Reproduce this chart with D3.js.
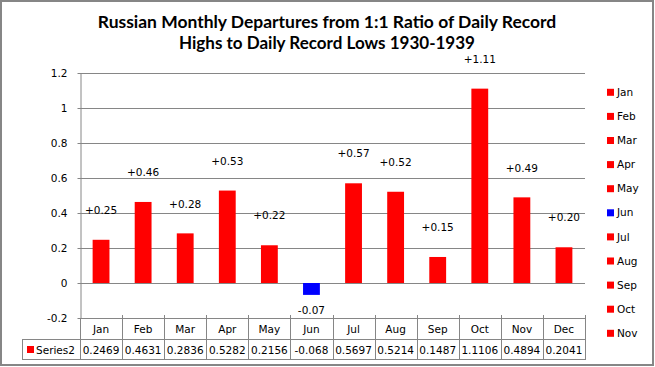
<!DOCTYPE html>
<html><head><meta charset="utf-8">
<script src="https://cdn.jsdelivr.net/npm/d3@7"></script>
<style>
body{margin:0;background:#fff;}
svg{display:block;}
text{font-family:"DejaVu Sans",Verdana,sans-serif;fill:#000;}
</style></head>
<body>
<script>
const titleLines = ["Russian Monthly Departures from 1:1 Ratio of Daily Record","Highs to Daily Record Lows 1930-1939"];
const categories = ["Jan","Feb","Mar","Apr","May","Jun","Jul","Aug","Sep","Oct","Nov","Dec"];
const values = [0.2469,0.4631,0.2836,0.5282,0.2156,-0.068,0.5697,0.5214,0.1487,1.1106,0.4894,0.2041];
const valueLabels = ["+0.25","+0.46","+0.28","+0.53","+0.22","-0.07","+0.57","+0.52","+0.15","+1.11","+0.49","+0.20"];
const yTicks = [-0.2,0,0.2,0.4,0.6,0.8,1,1.2];
const yTickLabels = ["-0.2","0","0.2","0.4","0.6","0.8","1","1.2"];
const seriesName = "Series2";
const legendShown = 11;

(function(){
const W=655,H=367;
const svg=d3.select("body").append("svg").attr("width",W).attr("height",H);
svg.append("rect").attr("x",1).attr("y",1).attr("width",W-3).attr("height",H-3)
  .attr("fill","#fff").attr("stroke","#868686").attr("stroke-width",2);

const pL=80,pR=585,pT=73,pB=318;
const x=d3.scaleBand().domain(categories).range([pL,pR]).paddingInner(0.6).paddingOuter(0.3);
const xc=d3.scaleBand().domain(categories).range([pL,pR]).padding(0);
const y=d3.scaleLinear().domain([-0.2,1.2]).range([pB,pT]);
const color=v=>v<0?"#0000FF":"#FF0000";

// title
const tg=svg.append("g");
const titleTargets=[459,296];
const titleBase=[28,48.5];
titleLines.forEach((t,i)=>{
  const el=tg.append("text").attr("x",327).attr("y",titleBase[i]).attr("text-anchor","middle")
    .style("font-family","Lato, 'Open Sans', sans-serif").style("font-weight","700").style("font-size","18px").text(t);
  const w=el.node().getComputedTextLength();
  el.style("font-size",(18*titleTargets[i]/w).toFixed(2)+"px");
});

// gridlines
svg.append("g").selectAll("line").data(yTicks).join("line")
  .attr("x1",pL).attr("x2",pR).attr("y1",d=>Math.round(y(d))+0.5).attr("y2",d=>Math.round(y(d))+0.5)
  .attr("stroke","#868686").attr("stroke-width",1);

// bars
svg.append("g").selectAll("rect").data(values).join("rect")
  .attr("x",(d,i)=>x(categories[i])).attr("width",x.bandwidth())
  .attr("y",d=>y(Math.max(0,d))).attr("height",d=>Math.abs(y(d)-y(0)))
  .attr("fill",d=>color(d));

// value labels
svg.append("g").selectAll("text").data(values).join("text")
  .attr("x",(d,i)=>x(categories[i])+x.bandwidth()/2)
  .attr("y",d=>d>=0?y(d)-29.5:y(d)+15)
  .attr("dy","0.35em").attr("text-anchor","middle").style("font-size","10.5px")
  .text((d,i)=>valueLabels[i]);

// y axis
const ya=svg.append("g").attr("transform",`translate(${pL+0.5},0)`)
  .call(d3.axisLeft(y).tickValues(yTicks).tickFormat(d=>yTickLabels[yTicks.indexOf(d)]).tickSizeInner(3).tickSizeOuter(0).tickPadding(10));
ya.select(".domain").attr("stroke","#868686");
ya.selectAll(".tick line").attr("stroke","#868686");
ya.selectAll(".tick text").style("font-size","10.5px").style("font-family","'DejaVu Sans',sans-serif").attr("fill","#000");

// data table
const r1=pB, r2=339, r3=359, tl=22;
const tb=svg.append("g").attr("stroke","#868686").attr("stroke-width",1);
tb.append("line").attr("x1",pL).attr("x2",pR).attr("y1",r1+0.5).attr("y2",r1+0.5);
tb.append("line").attr("x1",tl).attr("x2",pR).attr("y1",r2+0.5).attr("y2",r2+0.5);
tb.append("line").attr("x1",tl).attr("x2",pR).attr("y1",r3+0.5).attr("y2",r3+0.5);
tb.append("line").attr("x1",tl+0.5).attr("x2",tl+0.5).attr("y1",r2).attr("y2",r3+1);
tb.selectAll(".v").data(categories).join("line").attr("class","v")
  .attr("x1",d=>Math.round(xc(d)+xc.bandwidth())+0.5).attr("x2",d=>Math.round(xc(d)+xc.bandwidth())+0.5)
  .attr("y1",r1-3).attr("y2",r3+1);
tb.append("line").attr("x1",pL+0.5).attr("x2",pL+0.5).attr("y1",r1).attr("y2",r3+1);

svg.append("g").selectAll("text").data(categories).join("text")
  .attr("x",d=>xc(d)+xc.bandwidth()/2).attr("y",(r1+r2)/2+1).attr("dy","0.35em")
  .attr("text-anchor","middle").style("font-size","10.5px").text(d=>d);
svg.append("g").selectAll("text").data(values).join("text")
  .attr("x",(d,i)=>xc(categories[i])+xc.bandwidth()/2).attr("y",(r2+r3)/2+1).attr("dy","0.35em")
  .attr("text-anchor","middle").style("font-size","10.5px").text(d=>String(d));
svg.append("rect").attr("x",27).attr("y",346).attr("width",7).attr("height",7).attr("fill","#FF0000");
svg.append("text").attr("x",36).attr("y",(r2+r3)/2+1).attr("dy","0.35em").style("font-size","10.5px").text(seriesName);

// legend
const lg=svg.append("g").selectAll("g").data(categories.slice(0,legendShown)).join("g")
  .attr("transform",(d,i)=>`translate(607,${92.3+i*24.1})`);
lg.append("rect").attr("x",0).attr("y",-3.5).attr("width",7).attr("height",7).attr("fill",(d,i)=>color(values[i]));
lg.append("text").attr("x",10).attr("dy","0.35em").style("font-size","10.5px").text(d=>d);
})();
</script>
</body></html>
